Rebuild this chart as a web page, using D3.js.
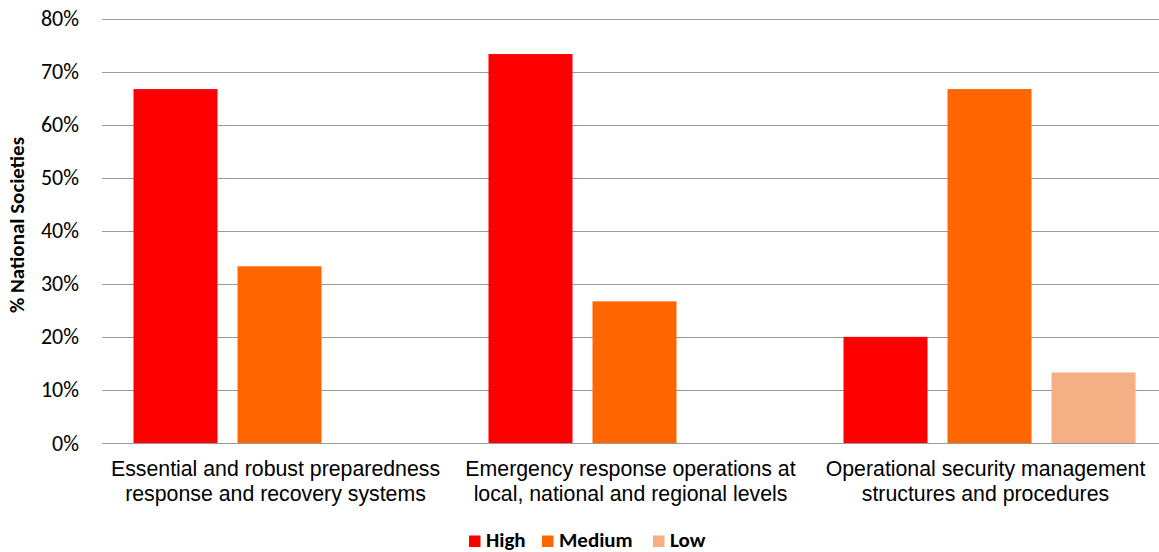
<!DOCTYPE html>
<html>
<head>
<meta charset="utf-8">
<script src="https://cdn.jsdelivr.net/npm/d3@7"></script>
<style>
  html, body { margin: 0; padding: 0; background: #fff; }
  svg { display: block; }
</style>
</head>
<body>
<svg id="chart" width="1159" height="552"></svg>
<script>
// Capacity areas (two-line labels)
const categories = [
  ["Essential and robust preparedness", "response and recovery systems"],
  ["Emergency response operations at", "local, national and regional levels"],
  ["Operational security management", "structures and procedures"]
];
const seriesNames = ["High", "Medium", "Low"];
const high   = [66.7, 73.3, 20.0];
const medium = [33.3, 26.7, 66.7];
const low    = [0, 0, 13.3];
const yTicks = [0, 10, 20, 30, 40, 50, 60, 70, 80];
const colors = ["#FF0000", "#FF6600", "#F4B084"];

const seriesValues = [high, medium, low];

const svg = d3.select("#chart");
const W = 1159;
const x0 = 102, x1 = 1167;          // band range (runs slightly past the right edge)
const yTop = 18.5, yBot = 443;

const y = d3.scaleLinear().domain([0, 80]).range([yBot, yTop]);
const gx = d3.scaleBand().domain(d3.range(categories.length)).range([x0, x1]).padding(0);
const bx = d3.scaleBand().domain(seriesNames).range([0, gx.bandwidth()])
  .paddingInner(20 / 104).paddingOuter(31.5 / 104);

const calibriLike = "Carlito, Calibri, Lato, 'Open Sans', sans-serif";

// Gridlines
svg.append("g").selectAll("line").data(yTicks).join("line")
  .attr("x1", x0).attr("x2", W)
  .attr("y1", d => Math.round(y(d)) + 0.5).attr("y2", d => Math.round(y(d)) + 0.5)
  .attr("stroke", "#9a9a9a").attr("stroke-width", 1);

// Y-axis labels
const yAxis = svg.append("g").attr("transform", `translate(${x0},0)`)
  .call(d3.axisLeft(y).tickValues(yTicks).tickFormat(d => d + "%").tickSize(0).tickPadding(23));
yAxis.select(".domain").remove();
yAxis.selectAll("text")
  .attr("font-family", calibriLike)
  .attr("font-size", 22).attr("fill", "#000");

// Bars
const groups = svg.append("g").selectAll("g").data(categories).join("g")
  .attr("transform", (d, i) => `translate(${gx(i)},0)`);
groups.each(function(d, i) {
  const rows = seriesNames.map((s, k) => ({ s, v: seriesValues[k][i], c: colors[k] }));
  d3.select(this).selectAll("rect").data(rows.filter(r => r.v > 0)).join("rect")
    .attr("x", r => bx(r.s)).attr("width", bx.bandwidth())
    .attr("y", r => y(r.v)).attr("height", r => y(0) - y(r.v))
    .attr("fill", r => r.c);
});

// Category labels
const catG = svg.append("g");
categories.forEach((lines, i) => {
  const cx = gx(i) + gx.bandwidth() / 2 - 4;
  const t = catG.append("text")
    .attr("x", cx).attr("y", 476)
    .attr("text-anchor", "middle")
    .attr("font-family", "'Liberation Sans', Arial, sans-serif")
    .attr("font-size", 21.3).attr("fill", "#000");
  lines.forEach((ln, j) => t.append("tspan").attr("x", cx)
    .attr("dy", j === 0 ? 0 : 25).text(ln));
});

// Y-axis title
svg.append("text")
  .attr("transform", "translate(24,225) rotate(-90)")
  .attr("text-anchor", "middle")
  .attr("font-family", calibriLike)
  .attr("font-weight", "bold").attr("font-size", 21).attr("fill", "#000")
  .text("% National Societies");

// Legend
const legendItems = [
  { name: seriesNames[0], c: colors[0], x: 469 },
  { name: seriesNames[1], c: colors[1], x: 542 },
  { name: seriesNames[2], c: colors[2], x: 653 }
];
const lg = svg.append("g");
legendItems.forEach(it => {
  lg.append("rect").attr("x", it.x).attr("y", 535.5).attr("width", 11.5).attr("height", 11.5).attr("fill", it.c);
  lg.append("text").attr("x", it.x + 17).attr("y", 547)
    .attr("font-family", calibriLike)
    .attr("font-weight", "bold").attr("font-size", 21).attr("fill", "#000")
    .text(it.name);
});
</script>
</body>
</html>
